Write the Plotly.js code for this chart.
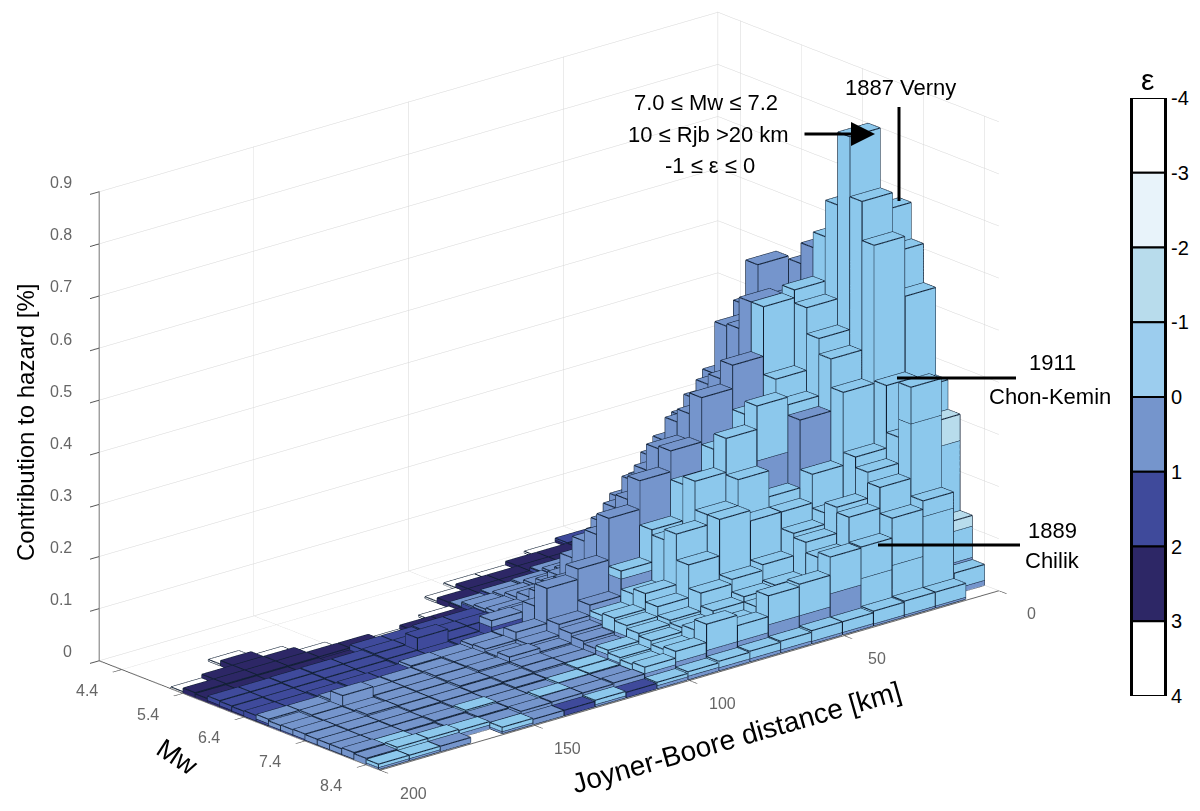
<!DOCTYPE html>
<html><head><meta charset="utf-8"><script src="https://cdn.plot.ly/plotly-3.0.1.min.js"></script>
<style>html,body{margin:0;padding:0;background:#fff}#c{width:1200px;height:811px}</style></head>
<body><div id="c"></div>
<script>
// Contribution to hazard, thousandths of a percent. Rows: Mw bin from 8.4-8.6 down to 4.4-4.6; columns: Rjb bin 0-10 ... 190-200 km.
const mwBinCentres=[8.5,8.3,8.1,7.9,7.7,7.5,7.3,7.1,6.9,6.7,6.5,6.3,6.1,5.9,5.7,5.5,5.3,5.1,4.9,4.7,4.5];
const rBinCentres=[5,15,25,35,45,55,65,75,85,95,105,115,125,135,145,155,165,175,185,195];
const skyEps0=[
[0,26,26,24,20,20,16,14,12,8,6,0,8,0,0,8,0,0,6,6],
[30,150,75,65,70,60,55,30,50,20,12,0,0,0,0,0,6,6,6,0],
[60,305,200,160,95,45,40,30,35,18,10,0,0,7,0,0,0,0,7,0],
[220,270,220,170,120,55,50,40,30,20,10,6,7,0,0,6,0,0,0,0],
[280,360,245,160,110,85,80,70,30,20,8,6,0,0,0,0,0,0,0,0],
[500,620,360,190,150,150,170,110,45,20,0,0,0,0,0,0,0,0,0,0],
[580,700,420,0,170,210,180,160,60,25,0,0,0,0,0,0,0,0,0,0],
[650,810,440,300,105,280,225,140,25,10,0,0,0,0,0,0,0,0,0,0],
[600,680,500,300,200,200,150,90,15,0,0,0,0,0,0,0,0,0,0,0],
[620,600,55,350,0,0,0,0,0,0,0,0,0,0,0,0,0,0,0,0],
[0,0,0,0,0,0,0,0,0,0,0,0,0,0,0,0,0,0,0,0],
[0,0,0,0,0,0,0,0,0,0,0,0,0,0,0,0,0,0,0,0],
[0,0,0,0,0,0,0,0,0,0,0,0,0,0,0,0,0,0,0,0],
[0,0,0,0,0,0,0,0,0,0,0,0,0,0,0,0,0,0,0,0],
[0,0,0,0,0,0,0,0,0,0,0,0,0,0,0,0,0,0,0,0],
[0,0,0,0,0,0,0,0,0,0,0,0,0,0,0,0,0,0,0,0],
[0,0,0,0,0,0,0,0,0,0,0,0,0,0,0,0,0,0,0,0],
[0,0,0,0,0,0,0,0,0,0,0,0,0,0,0,0,0,0,0,0],
[0,0,0,0,0,0,0,0,0,0,0,0,0,0,0,0,0,0,0,0],
[0,0,0,0,0,0,0,0,0,0,0,0,0,0,0,0,0,0,0,0],
[0,0,0,0,0,0,0,0,0,0,0,0,0,0,0,0,0,0,0,0]];
const mediumEps1=[
[0,4,4,4,5,5,6,6,6,7,6,0,4,0,10,4,0,10,4,4],
[10,16,15,17,70,45,45,30,30,25,20,16,14,14,14,12,8,10,10,12],
[45,30,30,30,35,30,30,25,25,22,18,14,14,8,12,12,10,10,5,12],
[40,30,30,30,30,30,30,30,25,25,20,10,8,12,12,8,12,10,10,10],
[27,30,25,20,48,30,24,25,30,30,26,10,14,13,12,12,10,10,10,10],
[35,30,25,55,40,40,40,30,30,35,28,16,16,14,13,12,12,10,10,10],
[30,25,20,340,40,50,30,30,30,35,33,16,16,14,14,12,12,12,10,10],
[30,30,30,60,270,50,40,30,55,45,38,18,25,16,14,12,12,10,10,9],
[20,20,20,100,150,100,100,90,100,65,45,22,16,15,14,12,12,30,10,8],
[30,30,490,180,430,385,300,260,205,125,105,35,20,14,12,12,10,10,8,8],
[600,600,520,530,400,345,295,215,165,90,55,12,14,10,10,0,0,0,0,0],
[550,560,495,465,375,320,245,190,140,70,30,12,0,0,0,0,0,0,0,0],
[475,515,560,460,338,275,215,150,95,40,12,0,0,0,0,0,0,0,0,0],
[410,440,470,355,290,230,170,100,40,15,6,0,0,0,0,0,0,0,0,0],
[350,370,370,290,230,180,110,40,12,6,4,0,0,0,0,0,0,0,0,0],
[270,290,270,210,160,100,30,8,4,3,2,0,0,0,0,0,0,0,0,0],
[190,200,180,140,90,25,6,3,2,1,1,0,0,0,0,0,0,0,0,0],
[120,120,100,70,30,6,2,1,0,0,0,0,0,0,0,0,0,0,0,0],
[60,55,45,20,6,2,0,0,0,0,0,0,0,0,0,0,0,0,0,0],
[20,18,14,6,2,0,0,0,0,0,0,0,0,0,0,0,0,0,0,0],
[6,5,3,1,0,0,0,0,0,0,0,0,0,0,0,0,0,0,0,0]];
const blueEps2=[
[0,0,0,0,0,0,0,0,0,0,0,10,0,10,0,0,0,0,0,0],
[0,0,0,0,0,0,0,0,0,0,0,3,3,3,2,0,0,0,0,0],
[0,0,0,0,0,0,0,0,0,0,0,3,3,3,3,2,2,0,0,2],
[0,0,0,0,0,0,0,0,0,2,2,3,3,3,3,3,2,2,2,2],
[0,0,0,0,0,0,0,0,0,2,3,4,4,4,3,3,3,3,2,2],
[0,0,0,0,0,0,0,0,2,3,3,5,5,5,4,4,3,3,3,2],
[0,0,0,0,0,0,0,0,3,3,3,5,6,5,5,4,4,4,3,3],
[0,0,0,0,0,0,0,0,3,4,4,6,6,6,5,5,4,4,3,3],
[0,0,0,0,0,0,0,0,3,5,5,7,7,6,6,5,5,4,4,3],
[0,0,0,0,5,5,5,5,5,5,5,8,8,7,7,6,5,5,4,4],
[0,0,0,0,0,5,5,5,5,8,12,15,12,10,9,14,14,12,10,10],
[0,0,5,5,5,5,5,5,8,12,16,35,14,12,12,10,10,9,9,8],
[5,5,6,5,5,5,5,8,12,16,18,14,14,35,12,10,10,9,8,8],
[10,10,10,10,10,10,8,12,18,20,16,14,14,12,12,10,10,9,8,8],
[10,10,10,10,10,10,12,18,22,18,14,12,12,10,10,0,0,0,0,0],
[10,10,10,10,10,12,20,20,16,12,10,0,0,0,0,0,0,0,0,0],
[10,10,10,10,12,16,16,14,10,8,0,0,0,0,0,0,0,0,0,0],
[10,10,10,12,15,14,12,8,0,0,0,0,0,0,0,0,0,0,0,0],
[10,10,10,12,12,10,0,0,0,0,0,0,0,0,0,0,0,0,0,0],
[10,10,10,10,8,0,0,0,0,0,0,0,0,0,0,0,0,0,0,0],
[6,5,5,5,4,3,0,0,0,0,0,0,0,0,0,0,0,0,0,0]];
const navyEps3=[
[0,0,0,0,0,0,0,0,0,0,0,0,0,0,0,0,0,0,0,0],
[0,0,0,0,0,0,0,0,0,0,0,0,0,0,0,0,0,0,0,0],
[0,0,0,0,0,0,0,0,0,0,0,0,0,0,0,0,0,0,0,0],
[0,0,0,0,0,0,0,0,0,0,0,0,0,0,0,0,0,0,0,0],
[0,0,0,0,0,0,0,0,0,0,0,0,0,0,0,0,0,0,0,0],
[0,0,0,0,0,0,0,0,0,0,0,0,0,0,0,0,0,0,0,0],
[0,0,0,0,0,0,0,0,0,0,0,0,0,0,0,0,0,0,0,0],
[0,0,0,0,0,0,0,0,0,0,0,0,0,0,0,0,0,0,0,0],
[0,0,0,0,0,0,0,0,0,0,0,0,0,0,0,0,0,0,0,0],
[0,0,0,0,0,0,0,0,0,0,0,0,0,0,0,0,2,2,2,2],
[0,0,0,0,0,0,0,0,0,0,0,0,0,0,2,2,2,2,2,2],
[0,0,0,0,0,0,0,0,0,0,0,0,3,3,3,3,3,3,3,3],
[0,0,0,0,0,0,0,0,0,0,4,4,4,4,4,4,4,4,4,4],
[0,0,0,0,0,0,0,0,5,5,5,5,5,5,5,5,5,5,5,5],
[0,0,0,0,0,0,6,6,6,6,6,6,6,6,6,6,8,8,8,8],
[0,0,0,0,8,8,8,8,8,8,8,10,10,0,10,10,10,10,10,10],
[0,0,0,8,8,8,8,8,8,8,10,0,0,0,0,0,10,10,10,0],
[0,0,0,0,8,8,8,8,10,10,10,0,0,0,0,0,0,10,0,0],
[0,0,0,0,8,8,10,10,10,10,0,0,0,0,0,0,0,0,0,0],
[0,0,0,0,8,10,10,10,0,0,0,0,0,0,0,0,0,0,0,0],
[8,8,8,8,8,8,0,0,0,0,0,0,0,0,0,0,0,0,0,0]];
// sparse bands: [row, column, value]
const whiteEps4=[[16,19,3],[18,17,3],[17,16,3],[16,15,3],[15,13,3],[16,11,3],[18,10,3],[19,9,3],[19,8,3],[20,6,3]];
const skyUpperSegments=[[2,1,70],[1,2,90],[1,3,60],[4,0,60],[1,1,30]];
const paleEpsM1=[[2,0,20],[3,0,50]];

const bandColours={white:'#ffffff',navy:'#2d2766',blue:'#3f4a9b',medium:'#7595cc',sky:'#8cc8ec',skyUpper:'#8cc8ec',pale:'#b8dcec'};
const zTicks=[0,0.1,0.2,0.3,0.4,0.5,0.6,0.7,0.8,0.9];
const rTicks=[0,50,100,150,200];
const mwTicks=[4.4,5.4,6.4,7.4,8.4];
const epsTicks=[-4,-3,-2,-1,0,1,2,3,4];
const epsColours=['#ffffff','#e8f3fa','#b8dcec','#9ccdee','#7595cc','#3f4a9b','#2d2766','#ffffff'];

function sparse(list){const m=mwBinCentres.map(()=>rBinCentres.map(()=>0));list.forEach(([r,c,v])=>m[r][c]=v);return m;}
const stack=[['white',sparse(whiteEps4)],['navy',navyEps3],['blue',blueEps2],['medium',mediumEps1],['sky',skyEps0],['skyUpper',sparse(skyUpperSegments)],['pale',sparse(paleEpsM1)]];
const halfR=4.9, halfM=0.098;
const meshes={};stack.forEach(s=>meshes[s[0]]={x:[],y:[],z:[],i:[],j:[],k:[]});
const ex=[],ey=[],ez=[];
function seg(a,b){ex.push(a[0],b[0],null);ey.push(a[1],b[1],null);ez.push(a[2],b[2],null);}
mwBinCentres.forEach((m,r)=>rBinCentres.forEach((d,c)=>{
  let base=0;
  stack.forEach(([name,tbl])=>{
    const v=tbl[r][c]/1000; if(!v) return;
    const top=base+v, M=meshes[name], n=M.x.length;
    const xs=[d-halfR,d+halfR,d+halfR,d-halfR], ys=[m-halfM,m-halfM,m+halfM,m+halfM];
    [base,top].forEach(z=>{for(let q=0;q<4;q++){M.x.push(xs[q]);M.y.push(ys[q]);M.z.push(z);}});
    [[0,1,2],[0,2,3],[4,5,6],[4,6,7],[0,1,5],[0,5,4],[1,2,6],[1,6,5],[2,3,7],[2,7,6],[3,0,4],[3,4,7]].forEach(t=>{
      M.i.push(n+t[0]);M.j.push(n+t[1]);M.k.push(n+t[2]);});
    for(let q=0;q<4;q++){const w=(q+1)%4;
      seg([xs[q],ys[q],top],[xs[w],ys[w],top]);
      seg([xs[q],ys[q],base],[xs[w],ys[w],base]);
      seg([xs[q],ys[q],base],[xs[q],ys[q],top]);}
    base=top;
  });
}));
const traces=stack.map(([name])=>Object.assign({type:'mesh3d',color:bandColours[name],opacity:1,flatshading:true,showscale:false,hoverinfo:'skip',
  lighting:{ambient:1,diffuse:0,specular:0,roughness:1,fresnel:0}},meshes[name]));
traces.push({type:'scatter3d',mode:'lines',x:ex,y:ey,z:ez,connectgaps:false,line:{color:'#101f33',width:2.2},hoverinfo:'skip',showlegend:false});
traces.push({type:'bar',xaxis:'x',yaxis:'y',x:epsColours.map(()=>0),y:epsColours.map(()=>1),base:epsTicks.slice(0,8),width:1,
  marker:{color:epsColours,line:{color:'#000',width:2}},hoverinfo:'skip',showlegend:false});

const xMin=0,xMax=200,yMin=4.03,yMax=8.63;
const tickFont={family:'Liberation Sans',size:16,color:'#666'};
const sceneNotes=[
 ...zTicks.map(z=>({x:xMax,y:yMin,z:z,text:String(z),xanchor:'right',xshift:-25,yshift:9})),
 ...rTicks.map(r=>({x:r,y:yMax,z:0,text:String(r),xanchor:'center',xshift:33,yshift:-23})),
 ...mwTicks.map(m=>({x:xMax,y:m,z:0,text:m.toFixed(1),xanchor:'center',xshift:-35,yshift:-21}))
].map(a=>Object.assign(a,{showarrow:false,font:tickFont}));
const axisBase={showbackground:false,showgrid:true,gridcolor:'#d6d6d6',gridwidth:1,zeroline:false,showline:true,linecolor:'#666',linewidth:2,
  showticklabels:false,ticks:'outside',ticklen:12,tickwidth:2,tickcolor:'#555',showspikes:false,title:{text:''},tickmode:'array'};
const blackFont=s=>({family:'Liberation Sans',size:s,color:'#000'});
const note=(t,px,py,s,extra)=>Object.assign({text:t,xref:'paper',yref:'paper',x:px/1200,y:1-py/811,showarrow:false,font:blackFont(s),xanchor:'center',yanchor:'middle'},extra||{});
const layout={width:1200,height:811,margin:{l:0,r:0,t:0,b:0},paper_bgcolor:'#fff',plot_bgcolor:'rgba(0,0,0,0)',showlegend:false,
 barmode:'overlay',
 xaxis:{domain:[1132/1200,1165/1200],range:[-0.5,0.5],visible:false,fixedrange:true},
 yaxis:{domain:[(811-696)/811,(811-98)/811],range:[4,-4],side:'right',tickmode:'array',tickvals:epsTicks,ticktext:epsTicks.map(String),
   ticks:'',showgrid:false,zeroline:false,showline:true,mirror:true,linecolor:'#000',linewidth:2,tickfont:blackFont(20),anchor:'x',fixedrange:true,automargin:false},
 scene:{domain:{x:[0,0.915],y:[0.036,1]},aspectmode:'manual',aspectratio:{x:2.09,y:1.10,z:1.275},
  camera:{projection:{type:'orthographic'},eye:{x:0.911,y:1.056,z:0.498},center:{x:0,y:0,z:0},up:{x:0,y:0,z:1}},
  xaxis:Object.assign({},axisBase,{range:[xMin,xMax],tickvals:rTicks}),
  yaxis:Object.assign({},axisBase,{range:[yMin,yMax],tickvals:mwTicks}),
  zaxis:Object.assign({},axisBase,{range:[0,0.901],tickvals:zTicks}),
  annotations:sceneNotes},
 annotations:[
  note('Contribution to hazard [%]',25,422,24,{textangle:-90}),
  note('Mw',177,757,27,{textangle:33}),
  note('Joyner-Boore distance [km]',736,737,28,{textangle:-16}),
  note('7.0 ≤ Mw ≤ 7.2',706,103,22),
  note('10 ≤ Rjb &gt;20 km',708,134,22),
  note('-1 ≤ ε ≤ 0',710,165,22),
  note('1887 Verny',900,87,22),
  note('1911',1052,363,22),
  note('Chon-Kemin',1050,397,22),
  note('1889',1052,530,22),
  note('Chilik',1052,560,22),
  note('ε',1147,80,30),
  {xref:'paper',yref:'paper',axref:'paper',ayref:'paper',x:875/1200,y:1-134/811,ax:803/1200,ay:1-134/811,text:'',showarrow:true,arrowhead:2,arrowsize:1.6,arrowwidth:3,arrowcolor:'#000'}
 ],
 shapes:[
  {type:'line',xref:'paper',yref:'paper',x0:899/1200,x1:899/1200,y0:1-107/811,y1:1-201/811,line:{color:'#000',width:3}},
  {type:'line',xref:'paper',yref:'paper',x0:897/1200,x1:1016/1200,y0:1-378/811,y1:1-378/811,line:{color:'#000',width:3}},
  {type:'line',xref:'paper',yref:'paper',x0:878/1200,x1:1020/1200,y0:1-545/811,y1:1-545/811,line:{color:'#000',width:3}}
 ]};
Plotly.newPlot('c',traces,layout,{displayModeBar:false});
</script></body></html>
